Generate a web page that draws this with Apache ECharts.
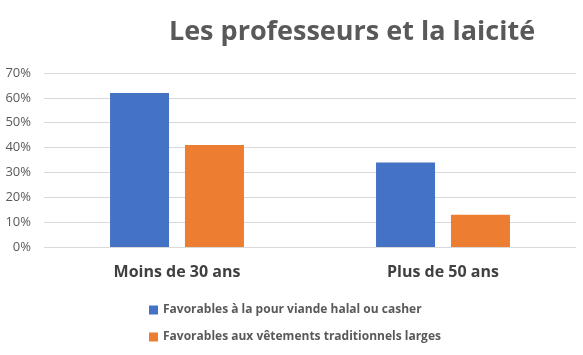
<!DOCTYPE html>
<html><head><meta charset="utf-8">
<script src="https://cdn.jsdelivr.net/npm/echarts@6/dist/echarts.min.js"></script>
<style>html,body{margin:0;padding:0;background:#fff}#c{width:583px;height:355px}</style>
</head><body><div id="c"></div>
<script>
const categories = ["Moins de 30 ans", "Plus de 50 ans"];
const seriesNames = ["Favorables à la pour viande halal ou casher", "Favorables aux vêtements traditionnels larges"];
const viande = [62, 34];
const vetements = [41, 13];
const yTicks = [0, 10, 20, 30, 40, 50, 60, 70];

const chart = echarts.init(document.getElementById('c'), null, {renderer: 'canvas'});
const font = '"Open Sans", "Noto Sans", sans-serif';
chart.setOption({
  animation: false,
  textStyle: {fontFamily: font},
  title: {
    text: "Les professeurs et la laicité",
    left: 347, top: 14, textAlign: 'center',
    textStyle: {fontFamily: font, fontSize: 27, fontWeight: 'bold', color: '#595959'}
  },
  legend: {
    orient: 'vertical', left: 144, top: 299, itemGap: 15,
    itemWidth: 9, itemHeight: 9, icon: 'rect',
    textStyle: {fontFamily: font, fontSize: 12, fontWeight: 'bold', color: '#595959'},
    data: seriesNames
  },
  grid: {left: 44, right: 7, top: 73, bottom: 108, containLabel: false},
  xAxis: {
    type: 'category', data: categories,
    axisLine: {show: false}, axisTick: {show: false},
    axisLabel: {fontFamily: font, fontSize: 16, fontWeight: 'bold', color: '#404040', margin: 17}
  },
  yAxis: {
    type: 'value', min: yTicks[0], max: yTicks[yTicks.length - 1], interval: 10,
    axisLine: {show: false}, axisTick: {show: false},
    splitLine: {lineStyle: {color: '#d9d9d9', width: 1}},
    axisLabel: {fontFamily: font, fontSize: 13, color: '#595959', margin: 13, formatter: v => v + '%'}
  },
  series: [
    {name: seriesNames[0], type: 'bar', data: viande, barWidth: 59, barGap: '27%', itemStyle: {color: '#4472c4'}},
    {name: seriesNames[1], type: 'bar', data: vetements, barWidth: 59, barGap: '27%', itemStyle: {color: '#ed7d31'}}
  ]
});
</script></body></html>
